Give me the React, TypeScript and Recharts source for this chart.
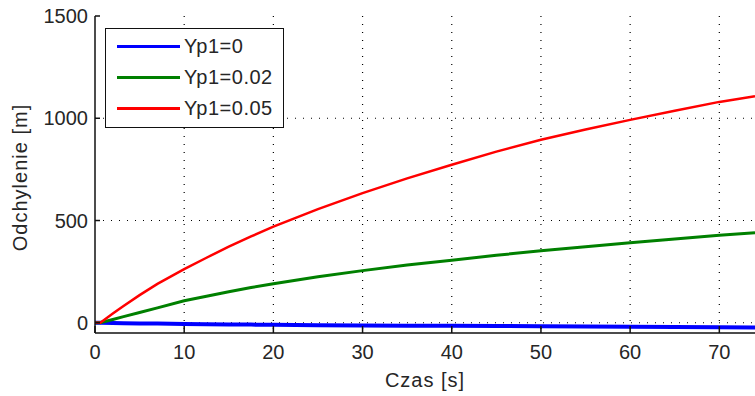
import React from 'react';
import {
  LineChart, Line, XAxis, YAxis, CartesianGrid, Label
} from 'recharts';

// time axis [s]
const czas = [0, 0.6, 2, 3.2, 5, 7, 10, 12.5, 15, 17.5, 20, 25, 30, 35, 40, 45, 50, 55, 60, 65, 70, 74];
// deflection [m] for each Yp1
const yp0 = [0, 0, -1, -2, -3, -4, -6, -7, -8, -9, -10, -12, -13, -14, -15, -16, -17, -18, -20, -21, -22, -23];
const yp002 = [0, 0, 16, 30, 50, 73, 108, 130, 152, 172, 191, 225, 255, 282, 306, 330, 352, 372, 391, 410, 428, 440];
const yp005 = [0, 0, 45, 82, 135, 190, 262, 318, 372, 422, 470, 556, 634, 706, 773, 837, 895, 945, 992, 1037, 1080, 1108];

const xTicks = [0, 10, 20, 30, 40, 50, 60, 70];
const yTicks = [0, 500, 1000, 1500];

const series = [
  { key: 'yp0', name: 'Yp1=0', color: '#0000ff', width: 4 },
  { key: 'yp002', name: 'Yp1=0.02', color: '#008000', width: 3 },
  { key: 'yp005', name: 'Yp1=0.05', color: '#ff0000', width: 2.5 },
];

const data = czas.map((t, i) => ({
  t,
  yp0: yp0[i],
  yp002: yp002[i],
  yp005: yp005[i],
}));

const font = '"Liberation Sans", Arial, sans-serif';
const ink = '#262626';
const tickStyle = { fontSize: 20, fill: ink, fontFamily: font };

const YTitle = (props: any) => {
  const { viewBox } = props;
  const cy = viewBox.y + viewBox.height / 2 + 3;
  return (
    <text
      x={27}
      y={cy}
      transform={`rotate(-90, 27, ${cy})`}
      textAnchor="middle"
      fontSize={20}
      fontFamily={font}
      fill={ink}
      letterSpacing={1}
    >
      Odchylenie [m]
    </text>
  );
};

const XTitle = (props: any) => {
  const { viewBox } = props;
  return (
    <text
      x={viewBox.x + viewBox.width / 2}
      y={387}
      textAnchor="middle"
      fontSize={20}
      fontFamily={font}
      fill={ink}
      letterSpacing={1}
    >
      Czas [s]
    </text>
  );
};

export default function App() {
  return (
    <div style={{ position: 'absolute', left: 0, top: 0, width: 755, height: 396, background: '#fff' }}>
      <LineChart
        width={755}
        height={396}
        data={data}
        margin={{ top: 16, right: 0, left: 0, bottom: 0 }}
      >
        <CartesianGrid
          stroke="#000"
          strokeDasharray="1 7"
          strokeWidth={1.2}
          horizontalValues={[0, 500, 1000]}
          verticalValues={[10, 20, 30, 40, 50, 60, 70]}
        />
        <XAxis
          dataKey="t"
          type="number"
          domain={[0, 74]}
          ticks={xTicks}
          allowDataOverflow
          height={63}
          axisLine={{ stroke: '#111', strokeWidth: 1.5 }}
          tickLine={{ stroke: '#111', strokeWidth: 1.5 }}
          tickSize={-7}
          tickMargin={19}
          tick={tickStyle}
        >
          <Label content={XTitle} />
        </XAxis>
        <XAxis
          xAxisId="top"
          orientation="top"
          dataKey="t"
          type="number"
          domain={[0, 74]}
          ticks={xTicks}
          allowDataOverflow
          height={0}
          axisLine={{ stroke: '#444', strokeWidth: 1.5 }}
          tickLine={{ stroke: '#111', strokeWidth: 1.5 }}
          tickSize={-7}
          tickFormatter={() => ''}
        />
        <YAxis
          type="number"
          domain={[-50, 1500]}
          ticks={yTicks}
          allowDataOverflow
          width={95}
          axisLine={{ stroke: '#111', strokeWidth: 1.5 }}
          tickLine={{ stroke: '#111', strokeWidth: 1.5 }}
          tickSize={-5}
          tickMargin={12}
          tick={tickStyle}
        >
          <Label content={YTitle} />
        </YAxis>
        {series.map((s) => (
          <Line
            key={s.key}
            type="linear"
            dataKey={s.key}
            name={s.name}
            stroke={s.color}
            strokeWidth={s.width}
            dot={false}
            activeDot={false}
            isAnimationActive={false}
          />
        ))}
      </LineChart>
      <div
        style={{
          position: 'absolute',
          left: 105,
          top: 28,
          width: 177,
          height: 98,
          border: '1px solid #111',
          background: '#fff',
          fontFamily: font,
          fontSize: 20,
          color: ink,
          letterSpacing: 0.5,
        }}
      >
        {series.map((s, i) => (
          <div
            key={s.key}
            style={{
              position: 'absolute',
              left: 11,
              top: 4 + i * 31,
              height: 26,
              display: 'flex',
              alignItems: 'center',
              whiteSpace: 'nowrap',
            }}
          >
            <div style={{ width: 63, height: 3, background: s.color, marginRight: 4 }} />
            <span>{s.name}</span>
          </div>
        ))}
      </div>
    </div>
  );
}
